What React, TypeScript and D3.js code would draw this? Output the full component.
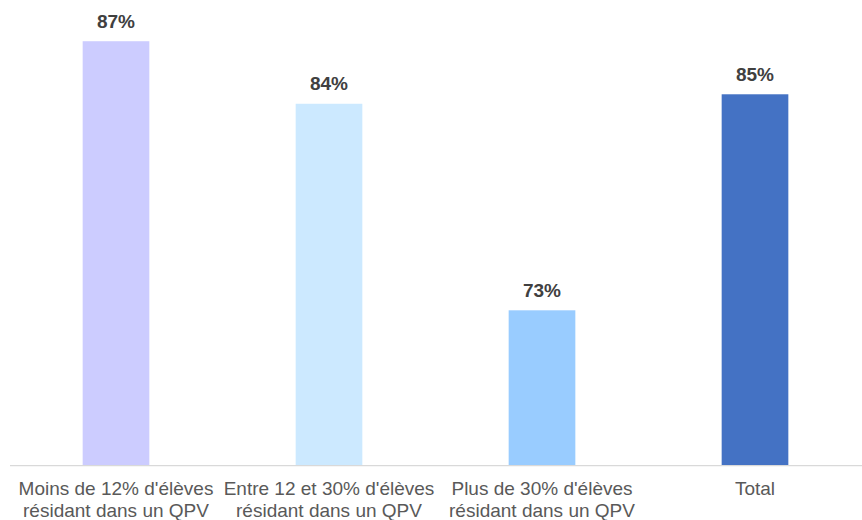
import React from "react";
import * as d3 from "d3";

const categories: string[][] = [
  ["Moins de 12% d'élèves", "résidant dans un QPV"],
  ["Entre 12 et 30% d'élèves", "résidant dans un QPV"],
  ["Plus de 30% d'élèves", "résidant dans un QPV"],
  ["Total"],
];
const values: number[] = [87.4, 84.1, 73.2, 84.6];
const valueLabels: string[] = ["87%", "84%", "73%", "85%"];
const colors: string[] = ["#ccccff", "#cce9ff", "#99ccff", "#4472c4"];

const W = 862;
const H = 520;

export default function App() {
  const x = d3
    .scaleBand<number>()
    .domain(values.map((_, i) => i))
    .range([9.5, 861.5])
    .paddingInner(0.687)
    .paddingOuter(0.3435);
  const y = d3.scaleLinear().domain([65, 88]).range([465.7, 29.85]);
  const baseY = y(65);

  return (
    <svg
      width={W}
      height={H}
      style={{ position: "absolute", left: 0, top: 0, fontFamily: "'Liberation Sans', Arial, sans-serif" }}
    >
      <rect width={W} height={H} fill="#ffffff" />
      {values.map((v, i) => (
        <g key={i}>
          <rect
            x={x(i)!}
            y={y(v)}
            width={x.bandwidth()}
            height={baseY - y(v)}
            fill={colors[i]}
          />
          <text
            x={x(i)! + x.bandwidth() / 2}
            y={y(v) - 13.5}
            textAnchor="middle"
            fontSize={19}
            fontWeight="bold"
            fill="#404040"
          >
            {valueLabels[i]}
          </text>
        </g>
      ))}
      <line x1={10} x2={862} y1={baseY} y2={baseY} stroke="#d9d9d9" strokeWidth={1.3} />
      {categories.map((lines, i) => (
        <text
          key={i}
          x={x(i)! + x.bandwidth() / 2}
          y={495}
          textAnchor="middle"
          fontSize={19}
          fill="#595959"
        >
          {lines.map((l, j) => (
            <tspan key={j} x={x(i)! + x.bandwidth() / 2} dy={j === 0 ? 0 : 21.5}>
              {l}
            </tspan>
          ))}
        </text>
      ))}
    </svg>
  );
}
